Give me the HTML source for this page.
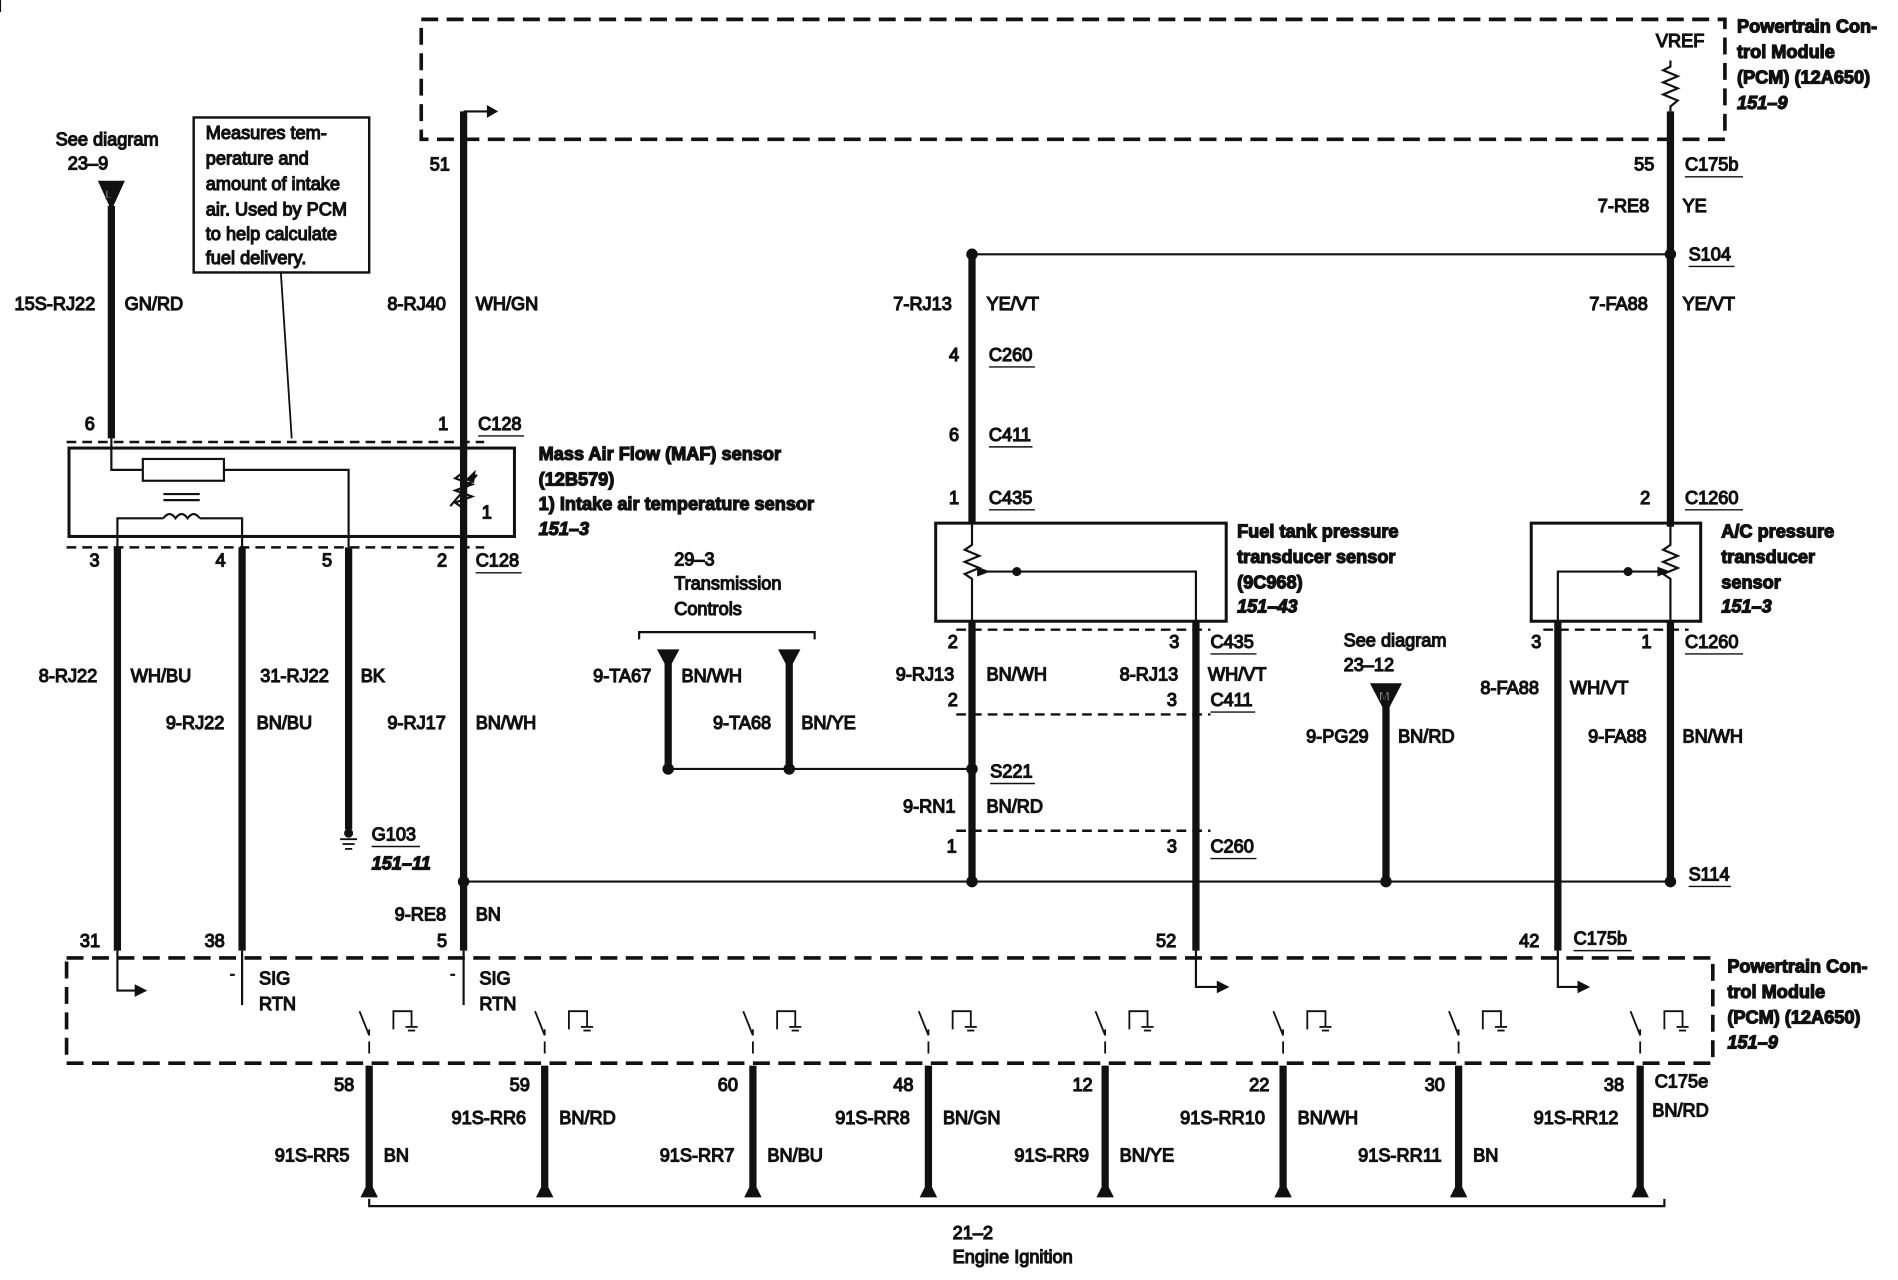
<!DOCTYPE html>
<html><head><meta charset="utf-8"><style>
html,body{margin:0;padding:0;background:#fff}
svg{display:block}
text{font-family:"Liberation Sans",Arial,sans-serif;font-size:15px;fill:#111}
.b{font-weight:bold}
.i{font-weight:bold;font-style:italic}
</style></head><body>
<svg width="1898" height="1280" viewBox="0 0 1568 1057" preserveAspectRatio="none" xmlns="http://www.w3.org/2000/svg">
<g fill="none" stroke="#111">
<rect x="348" y="16" width="1077" height="99" stroke-width="3" stroke-dasharray="14,7"/>
<rect x="55" y="791" width="1360" height="87" stroke-width="3" stroke-dasharray="14,7"/>
<line x1="55" y1="365" x2="400" y2="365" stroke-width="2" stroke-dasharray="8,5"/>
<line x1="55" y1="452" x2="400" y2="452" stroke-width="2" stroke-dasharray="8,5"/>
<line x1="790" y1="520" x2="1000" y2="520" stroke-width="2" stroke-dasharray="8,5"/>
<line x1="790" y1="590" x2="1000" y2="590" stroke-width="2" stroke-dasharray="8,5"/>
<line x1="790" y1="686" x2="1000" y2="686" stroke-width="2" stroke-dasharray="8,5"/>
<line x1="1275" y1="520" x2="1395" y2="520" stroke-width="2" stroke-dasharray="8,5"/>
<rect x="57" y="370" width="368" height="73" stroke-width="2.5"/>
<rect x="773" y="432" width="240" height="81" stroke-width="2.5"/>
<rect x="1265" y="432" width="140" height="81" stroke-width="2.5"/>
<rect x="160" y="97" width="145" height="128" stroke-width="2"/>
<line x1="232" y1="225" x2="241" y2="362" stroke-width="1.5"/>
<g stroke-width="6">
<line x1="1380" y1="92" x2="1380" y2="435"/>
<line x1="383" y1="92" x2="383" y2="785"/>
<line x1="92" y1="170" x2="92" y2="362"/>
<line x1="97" y1="452" x2="97" y2="785"/>
<line x1="200" y1="452" x2="200" y2="785"/>
<line x1="288" y1="452" x2="288" y2="685"/>
<line x1="803" y1="210" x2="803" y2="432"/>
<line x1="803" y1="513" x2="803" y2="728"/>
<line x1="988" y1="513" x2="988" y2="785"/>
<line x1="552" y1="548" x2="552" y2="635"/>
<line x1="652" y1="548" x2="652" y2="635"/>
<line x1="1145" y1="580" x2="1145" y2="728"/>
<line x1="1287" y1="513" x2="1287" y2="785"/>
<line x1="1380" y1="513" x2="1380" y2="728"/>
<line x1="305" y1="880" x2="305" y2="980"/>
<line x1="450" y1="880" x2="450" y2="980"/>
<line x1="622" y1="880" x2="622" y2="980"/>
<line x1="767" y1="880" x2="767" y2="980"/>
<line x1="913" y1="880" x2="913" y2="980"/>
<line x1="1060" y1="880" x2="1060" y2="980"/>
<line x1="1205" y1="880" x2="1205" y2="980"/>
<line x1="1355" y1="880" x2="1355" y2="980"/>
</g>
<g stroke-width="1.8">
<line x1="803" y1="210" x2="1380" y2="210"/>
<line x1="383" y1="728" x2="1380" y2="728"/>
<line x1="552" y1="635" x2="803" y2="635"/>
<polyline points="383,92 383,92 410,92"/>
<polyline points="1380,50 1380,55 1374,58 1386,63 1374,68 1386,73 1374,78 1386,83 1380,88 1380,92"/>
<polyline points="528,528 528,522 673,522 673,528"/>
<polyline points="305,990 305,996 1375,996 1375,990"/>
<rect x="118" y="379" width="67" height="18"/>
<polyline points="92,362 92,388 118,388"/>
<polyline points="185,388 288,388 288,452"/>
<line x1="135" y1="408" x2="165" y2="408"/><line x1="135" y1="413" x2="165" y2="413"/>
<polyline points="97,452 97,428 135,428"/>
<path d="M135,428 q5,-7 10,0 q5,-7 10,0 q5,-7 10,0"/>
<polyline points="165,428 200,428 200,452"/>
<polyline points="383,390 376,395 390,400 376,405 390,410 376,415 383,420"/>
<line x1="372" y1="418" x2="394" y2="392"/>
<polyline points="803,432 803,450 797,454 809,459 797,464 809,469 797,474 803,478 803,513"/>
<polyline points="988,513 988,472 810,472"/>
<polyline points="1380,432 1380,450 1374,454 1386,459 1374,464 1386,469 1374,474 1380,478 1380,513"/>
<polyline points="1287,513 1287,472 1372,472"/>
<polyline points="97,785 97,818 118,818"/>
<line x1="200" y1="785" x2="200" y2="830"/>
<line x1="383" y1="785" x2="383" y2="830"/>
<line x1="190" y1="805" x2="194" y2="805"/><line x1="372" y1="805" x2="376" y2="805"/>
<polyline points="988,785 988,815 1012,815"/>
<polyline points="1287,785 1287,815 1310,815"/>
<g id="sw">
<line x1="0" y1="-10" x2="0" y2="-5"/><line x1="0" y1="-5" x2="-8" y2="-25"/>
<line x1="0" y1="0" x2="0" y2="10"/>
<polyline points="20,-10 20,-25 35,-25 35,-12"/>
<line x1="30" y1="-12" x2="40" y2="-12"/><line x1="32" y1="-9" x2="38" y2="-9"/>
</g>
</g>
<g fill="#111" stroke="#111" stroke-width="1.5">
<g fill="none"><use href="#sw" x="305" y="860"/><use href="#sw" x="450" y="860"/><use href="#sw" x="622" y="860"/><use href="#sw" x="767" y="860"/><use href="#sw" x="913" y="860"/><use href="#sw" x="1060" y="860"/><use href="#sw" x="1205" y="860"/><use href="#sw" x="1355" y="860"/></g>
<polygon points="403,88 410,92 403,96"/>
<polygon points="112,814 120,818 112,822"/>
<polygon points="1006,811 1014,815 1006,819"/>
<polygon points="1304,811 1312,815 1304,819"/>
<polygon points="82,150 102,150 92,172"/>
<polygon points="544,537 560,537 552,552"/>
<polygon points="644,537 660,537 652,552"/>
<polygon points="1133,565 1157,565 1145,588"/>
<polygon points="808,469 816,472 808,475"/>
<polygon points="1370,469 1378,472 1370,475"/>
<polygon points="386,396 392,390 391,398"/>
<circle cx="1380" cy="210" r="4"/><circle cx="803" cy="210" r="4"/>
<circle cx="803" cy="635" r="4"/><circle cx="552" cy="635" r="4"/><circle cx="652" cy="635" r="4"/>
<circle cx="383" cy="728" r="4"/><circle cx="803" cy="728" r="4"/><circle cx="1145" cy="728" r="4"/><circle cx="1380" cy="728" r="4"/>
<circle cx="840" cy="472" r="3"/><circle cx="1345" cy="472" r="3"/>
<circle cx="288" cy="688" r="3"/>
<line x1="281" y1="693" x2="295" y2="693"/><line x1="283" y1="697" x2="293" y2="697"/><line x1="285" y1="701" x2="291" y2="701"/>
<polygon points="299,988 311,988 305,976"/><polygon points="444,988 456,988 450,976"/><polygon points="616,988 628,988 622,976"/><polygon points="761,988 773,988 767,976"/><polygon points="907,988 919,988 913,976"/><polygon points="1054,988 1066,988 1060,976"/><polygon points="1199,988 1211,988 1205,976"/><polygon points="1349,988 1361,988 1355,976"/>
</g>
<text x="87" y="164" style="font-size:10px;fill:#fff" class="b">L</text>
<text x="1139" y="579" style="font-size:11px;fill:#fff" class="b">M</text>
<text x="1368" y="39">VREF</text>
<text x="1435" y="27" class="b">Powertrain Con-</text><text x="1435" y="48" class="b">trol Module</text><text x="1435" y="69" class="b">(PCM) (12A650)</text><text x="1435" y="90" class="i">151–9</text>
<text x="1427" y="803" class="b">Powertrain Con-</text><text x="1427" y="824" class="b">trol Module</text><text x="1427" y="845" class="b">(PCM) (12A650)</text><text x="1427" y="866" class="i">151–9</text>
<text x="46" y="120">See diagram</text><text x="56" y="140">23–9</text>
<text x="170" y="115">Measures tem-</text><text x="170" y="136">perature and</text><text x="170" y="157">amount of intake</text><text x="170" y="178">air. Used by PCM</text><text x="170" y="198">to help calculate</text><text x="170" y="218">fuel delivery.</text>
<text x="355" y="141">51</text>
<text x="1350" y="141">55</text><text x="1392" y="141">C175b</text>
<text x="1320" y="175">7-RE8</text><text x="1390" y="175">YE</text>
<text x="1395" y="215">S104</text>
<text x="12" y="256">15S-RJ22</text><text x="103" y="256">GN/RD</text>
<text x="320" y="256">8-RJ40</text><text x="393" y="256">WH/GN</text>
<text x="738" y="256">7-RJ13</text><text x="815" y="256">YE/VT</text>
<text x="1313" y="256">7-FA88</text><text x="1390" y="256">YE/VT</text>
<text x="784" y="298">4</text><text x="817" y="298">C260</text>
<text x="784" y="364">6</text><text x="817" y="364">C411</text>
<text x="784" y="416">1</text><text x="817" y="416">C435</text>
<text x="1355" y="416">2</text><text x="1392" y="416">C1260</text>
<text x="70" y="355">6</text><text x="362" y="355">1</text><text x="395" y="355">C128</text>
<text x="445" y="380" class="b">Mass Air Flow (MAF) sensor</text><text x="445" y="401" class="b">(12B579)</text><text x="445" y="421" class="b">1)   Intake air temperature sensor</text><text x="445" y="442" class="i">151–3</text>
<text x="398" y="428">1</text>
<text x="74" y="468">3</text><text x="178" y="468">4</text><text x="266" y="468">5</text><text x="361" y="468">2</text><text x="393" y="468">C128</text>
<text x="1022" y="444" class="b">Fuel tank pressure</text><text x="1022" y="465" class="b">transducer sensor</text><text x="1022" y="486" class="b">(9C968)</text><text x="1022" y="506" class="i">151–43</text>
<text x="1422" y="444" class="b">A/C pressure</text><text x="1422" y="465" class="b">transducer</text><text x="1422" y="486" class="b">sensor</text><text x="1422" y="506" class="i">151–3</text>
<text x="557" y="467">29–3</text><text x="557" y="487">Transmission</text><text x="557" y="508">Controls</text>
<text x="783" y="535">2</text><text x="966" y="535">3</text><text x="1000" y="535">C435</text>
<text x="1265" y="535">3</text><text x="1356" y="535">1</text><text x="1392" y="535">C1260</text>
<text x="1110" y="534">See diagram</text><text x="1110" y="554">23–12</text>
<text x="32" y="563">8-RJ22</text><text x="108" y="563">WH/BU</text><text x="215" y="563">31-RJ22</text><text x="298" y="563">BK</text>
<text x="490" y="563">9-TA67</text><text x="563" y="563">BN/WH</text>
<text x="740" y="562">9-RJ13</text><text x="815" y="562">BN/WH</text><text x="925" y="562">8-RJ13</text><text x="998" y="562">WH/VT</text>
<text x="1223" y="573">8-FA88</text><text x="1297" y="573">WH/VT</text>
<text x="783" y="583">2</text><text x="964" y="583">3</text><text x="1000" y="583">C411</text>
<text x="137" y="602">9-RJ22</text><text x="212" y="602">BN/BU</text><text x="320" y="602">9-RJ17</text><text x="393" y="602">BN/WH</text>
<text x="589" y="602">9-TA68</text><text x="662" y="602">BN/YE</text>
<text x="1079" y="613">9-PG29</text><text x="1155" y="613">BN/RD</text><text x="1312" y="613">9-FA88</text><text x="1390" y="613">BN/WH</text>
<text x="818" y="642">S221</text>
<text x="746" y="671">9-RN1</text><text x="815" y="671">BN/RD</text>
<text x="782" y="704">1</text><text x="964" y="704">3</text><text x="1000" y="704">C260</text>
<text x="307" y="694">G103</text><text x="307" y="718" class="i">151–11</text>
<text x="1395" y="727">S114</text>
<text x="326" y="760">9-RE8</text><text x="393" y="760">BN</text>
<text x="66" y="782">31</text><text x="169" y="782">38</text><text x="361" y="782">5</text><text x="955" y="782">52</text><text x="1255" y="782">42</text><text x="1300" y="780">C175b</text>
<text x="214" y="813">SIG</text><text x="214" y="834">RTN</text><text x="396" y="813">SIG</text><text x="396" y="834">RTN</text>
<text x="276" y="901">58</text><text x="421" y="901">59</text><text x="593" y="901">60</text><text x="738" y="901">48</text><text x="886" y="901">12</text><text x="1032" y="901">22</text><text x="1177" y="901">30</text><text x="1325" y="901">38</text>
<text x="1367" y="898">C175e</text><text x="1365" y="922">BN/RD</text>
<text x="373" y="928">91S-RR6</text><text x="462" y="928">BN/RD</text><text x="690" y="928">91S-RR8</text><text x="779" y="928">BN/GN</text><text x="975" y="928">91S-RR10</text><text x="1072" y="928">BN/WH</text><text x="1267" y="928">91S-RR12</text>
<text x="227" y="959">91S-RR5</text><text x="317" y="959">BN</text><text x="545" y="959">91S-RR7</text><text x="634" y="959">BN/BU</text><text x="838" y="959">91S-RR9</text><text x="925" y="959">BN/YE</text><text x="1122" y="959">91S-RR11</text><text x="1217" y="959">BN</text>
<text x="787" y="1023">21–2</text><text x="787" y="1043">Engine Ignition</text>
<g stroke="#111" stroke-width="1.2">
<line x1="395" y1="360" x2="433" y2="360"/><line x1="393" y1="473" x2="431" y2="473"/>
<line x1="1392" y1="146" x2="1440" y2="146"/><line x1="1395" y1="220" x2="1433" y2="220"/>
<line x1="817" y1="303" x2="855" y2="303"/><line x1="817" y1="369" x2="853" y2="369"/><line x1="817" y1="421" x2="855" y2="421"/>
<line x1="1392" y1="421" x2="1440" y2="421"/><line x1="1000" y1="540" x2="1038" y2="540"/><line x1="1392" y1="540" x2="1440" y2="540"/>
<line x1="1000" y1="588" x2="1037" y2="588"/><line x1="818" y1="647" x2="855" y2="647"/><line x1="1000" y1="709" x2="1038" y2="709"/>
<line x1="1395" y1="732" x2="1430" y2="732"/><line x1="1300" y1="785" x2="1348" y2="785"/><line x1="307" y1="699" x2="347" y2="699"/>
</g>
</svg>
</body></html>
